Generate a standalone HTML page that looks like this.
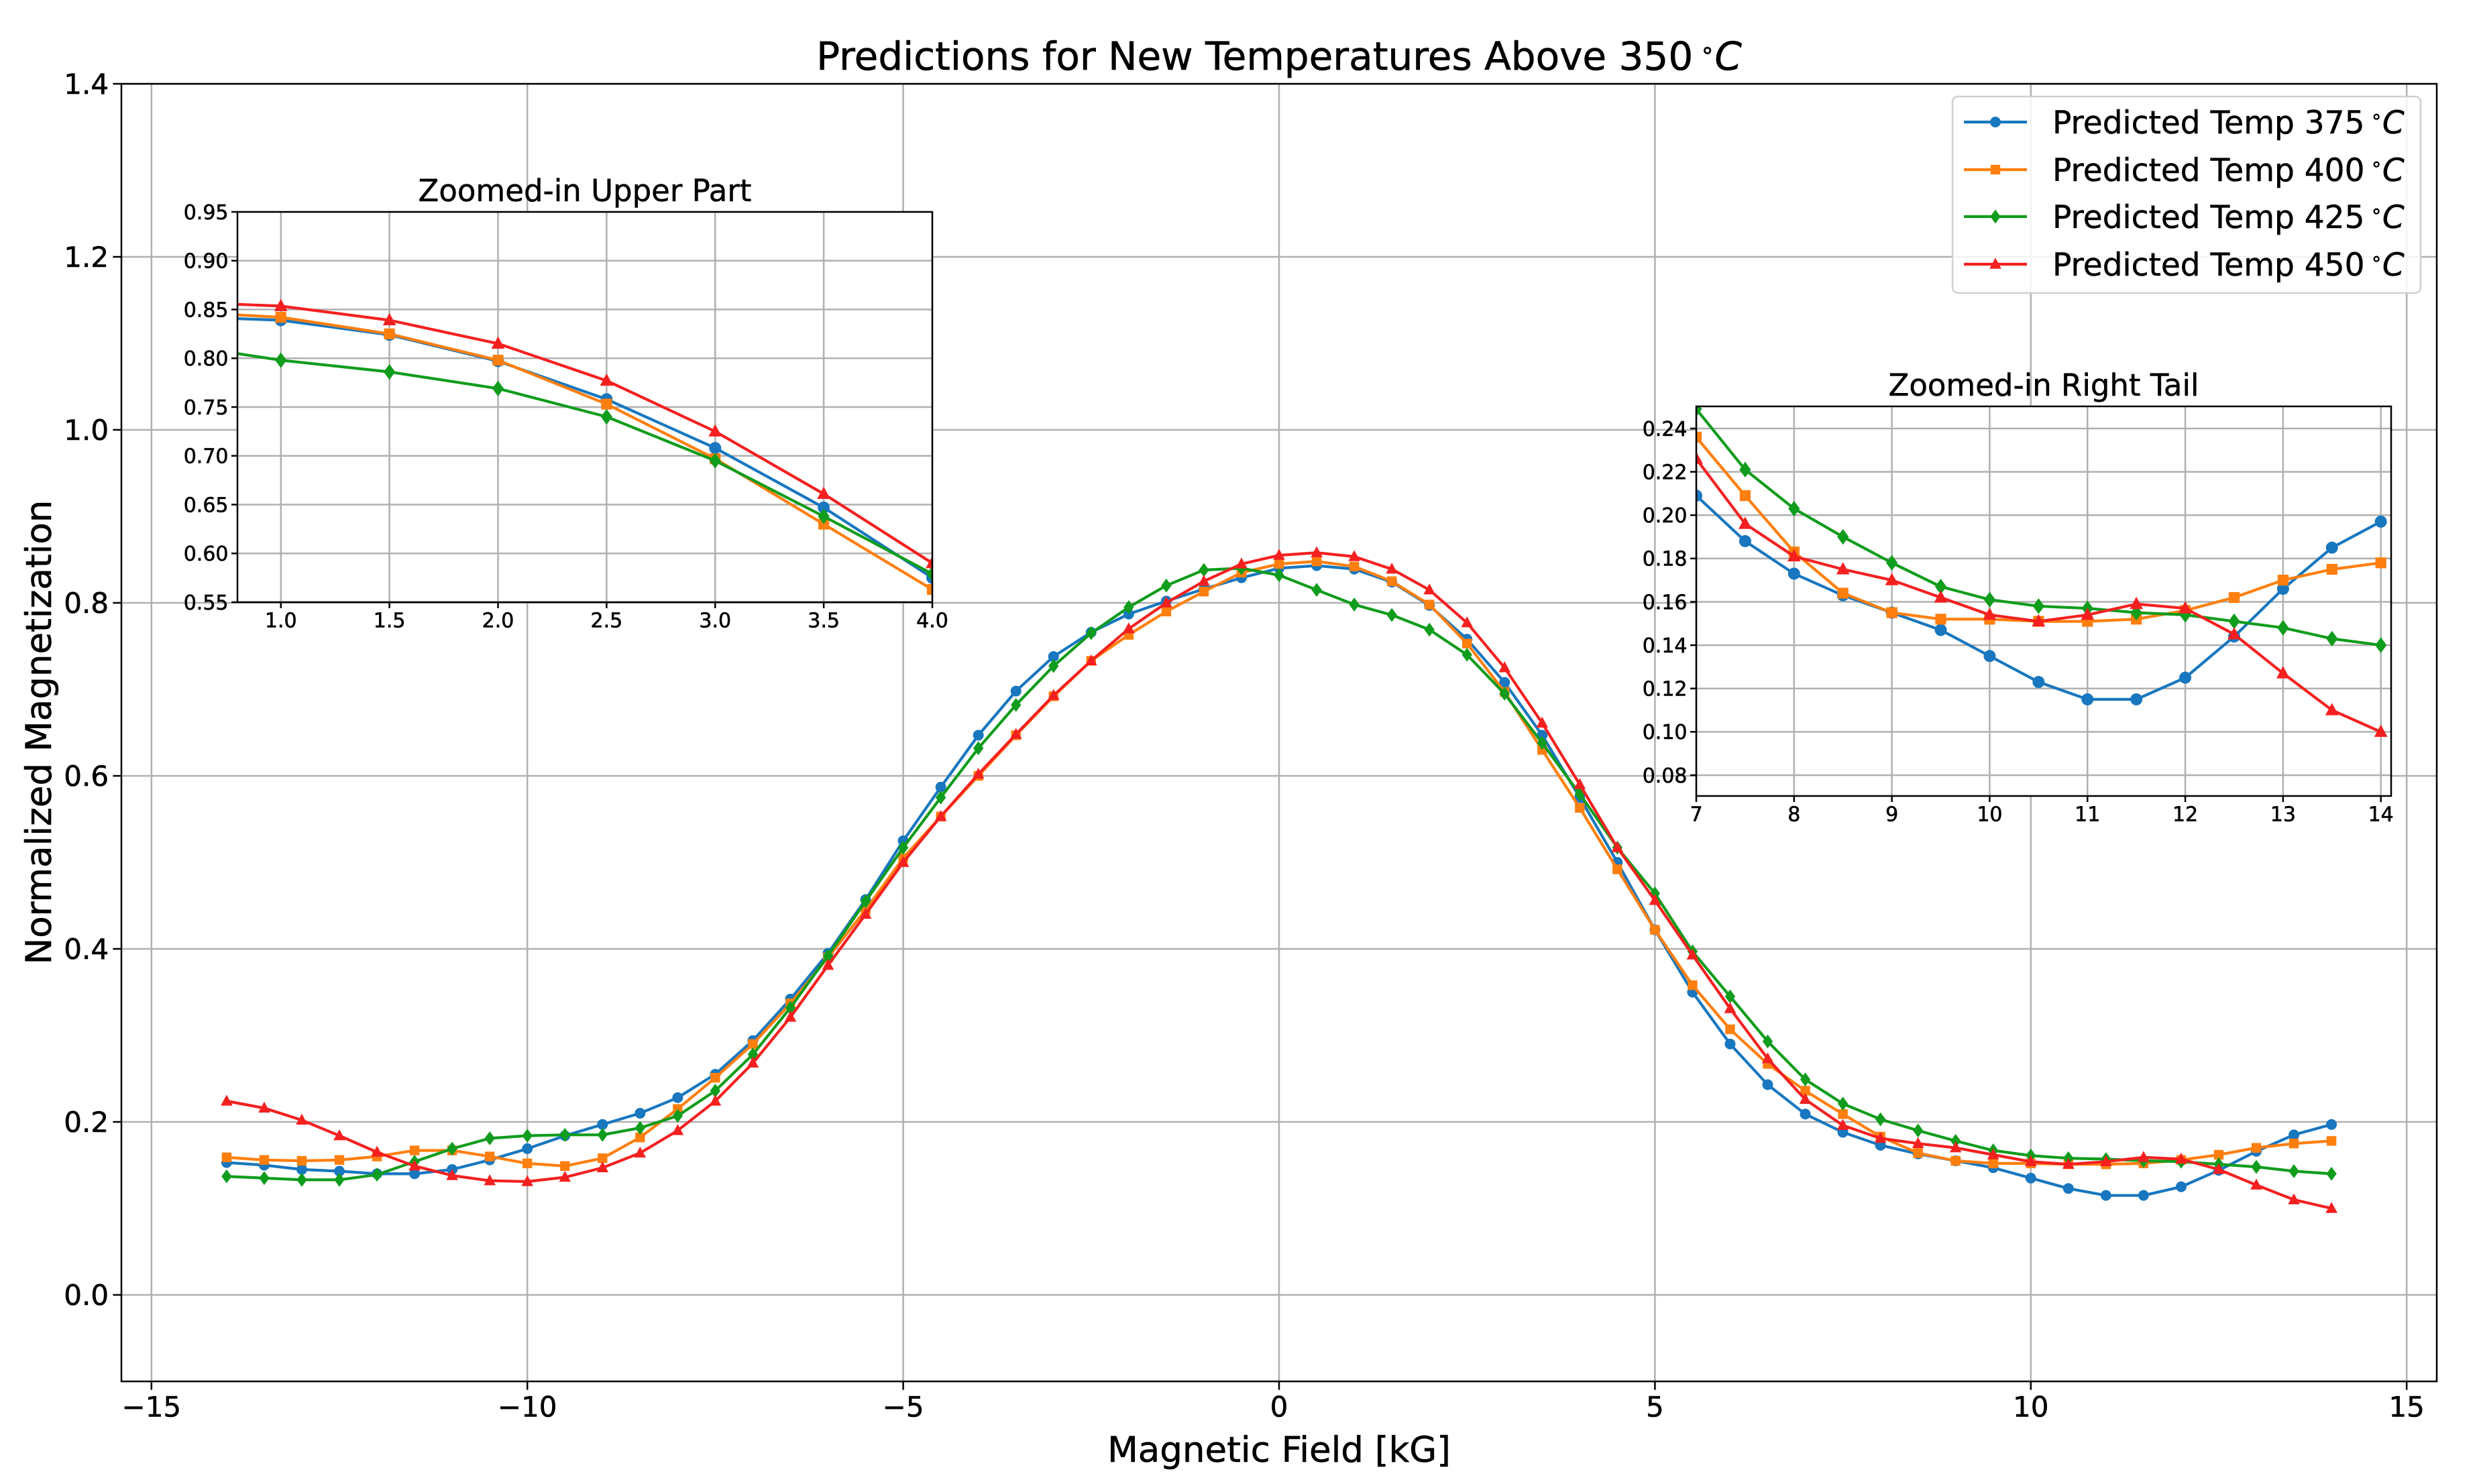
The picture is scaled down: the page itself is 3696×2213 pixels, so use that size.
<!DOCTYPE html>
<html><head><meta charset="utf-8"><style>
html,body{margin:0;padding:0;background:#fff;}
svg{display:block;font-family:"DejaVu Sans","Liberation Sans",sans-serif;}
</style></head><body>
<svg id="chart" width="3696" height="2213" viewBox="0 0 3696 2213" xmlns="http://www.w3.org/2000/svg"></svg>
<script>
const xValues = [];
for (let i = 0; i <= 56; i++) xValues.push(-14 + i * 0.5);
const seriesNames = ["Predicted Temp 375", "Predicted Temp 400", "Predicted Temp 425", "Predicted Temp 450"];
const blueValues = [0.153,0.150,0.145,0.143,0.140,0.140,0.145,0.156,0.169,0.184,0.197,0.210,0.228,0.255,0.294,0.342,0.395,
 0.457,0.525,0.587,0.647,0.698,0.738,0.766,0.787,0.802,0.816,0.829,0.840,
 0.843,0.839,0.824,0.797,0.758,0.708,0.647,0.575,
 0.500,0.422,0.350,0.290,0.243,
 0.209,0.188,0.173,0.163,0.155,0.147,0.135,0.123,0.115,0.115,0.125,0.144,0.166,0.185,0.197];
const orangeValues = [0.159,0.156,0.155,0.156,0.160,0.167,0.167,0.160,0.152,0.149,0.158,0.182,0.215,0.251,0.290,0.337,0.390,
 0.445,0.505,0.553,0.600,0.647,0.692,0.733,0.763,0.790,0.813,0.835,0.845,
 0.848,0.842,0.825,0.798,0.753,0.697,0.630,0.563,
 0.492,0.422,0.358,0.307,0.267,
 0.236,0.209,0.183,0.164,0.155,0.152,0.152,0.151,0.151,0.152,0.156,0.162,0.170,0.175,0.178];
const greenValues = [0.137,0.135,0.133,0.133,0.139,0.154,0.169,0.181,0.184,0.185,0.185,0.193,0.207,0.236,0.278,0.332,0.392,
 0.455,0.517,0.575,0.632,0.682,0.727,0.765,0.795,0.820,0.838,0.840,0.832,
 0.815,0.798,0.786,0.769,0.740,0.695,0.638,0.579,
 0.517,0.464,0.397,0.345,0.293,
 0.249,0.221,0.203,0.190,0.178,0.167,0.161,0.158,0.157,0.155,0.154,0.151,0.148,0.143,0.140];
const redValues = [0.224,0.216,0.202,0.184,0.165,0.149,0.138,0.132,0.131,0.136,0.147,0.164,0.190,0.224,0.268,0.321,0.381,
 0.440,0.500,0.553,0.602,0.648,0.693,0.733,0.770,0.800,0.825,0.845,0.855,
 0.858,0.8535,0.839,0.815,0.777,0.725,0.661,0.590,
 0.517,0.456,0.393,0.331,0.273,
 0.226,0.196,0.181,0.175,0.170,0.162,0.154,0.151,0.154,0.159,0.157,0.145,0.127,0.110,0.100];
const mainXTicks = [-15,-10,-5,0,5,10,15];
const mainYTicks = [0.0,0.2,0.4,0.6,0.8,1.0,1.2,1.4];
const inset1XTicks = [1.0,1.5,2.0,2.5,3.0,3.5,4.0];
const inset1YTicks = [0.55,0.60,0.65,0.70,0.75,0.80,0.85,0.90,0.95];
const inset2XTicks = [7,8,9,10,11,12,13,14];
const inset2YTicks = [0.08,0.10,0.12,0.14,0.16,0.18,0.20,0.22,0.24];

const NS = "http://www.w3.org/2000/svg";
const svg = document.getElementById("chart");
const colors = ["#1877bf","#ff7f0e","#109c1c","#f42020"];
const markers = ["circle","square","diamond","triangle"];
const allSeries = [blueValues, orangeValues, greenValues, redValues];
const keys = ["375","400","425","450"];

function el(tag, attrs, parent) {
  const e = document.createElementNS(NS, tag);
  for (const k in attrs) e.setAttribute(k, attrs[k]);
  (parent || svg).appendChild(e);
  return e;
}
function markerShape(type, x, y, s, color, parent) {
  let e;
  if (type === "circle") e = el("circle", {cx:x, cy:y, r:s*0.5, fill:color}, parent);
  else if (type === "square") e = el("rect", {x:x-s*0.45, y:y-s*0.45, width:s*0.9, height:s*0.9, fill:color}, parent);
  else if (type === "diamond") e = el("polygon", {points:`${x},${y-s*0.65} ${x+s*0.48},${y} ${x},${y+s*0.65} ${x-s*0.48},${y}`, fill:color}, parent);
  else e = el("polygon", {points:`${x},${y-s*0.6} ${x+s*0.55},${y+s*0.42} ${x-s*0.55},${y+s*0.42}`, fill:color}, parent);
  return e;
}

function drawAxes(cfg) {
  const {id, L, R, T, B, xmin, xmax, ymin, ymax, xticks, yticks, fmtX, fmtY, fs, lw, ms, grid} = cfg;
  const sx = v => L + (v - xmin) / (xmax - xmin) * (R - L);
  const sy = v => B - (v - ymin) / (ymax - ymin) * (B - T);
  const g = el("g", {});
  
  
  el("rect", {x:L, y:T, width:R-L, height:B-T, fill:"#fff"}, g);
  const gg = el("g", {stroke:"#b0b0b0", "stroke-width":grid}, g);
  
  
  xticks.forEach(t => { const x = sx(t); el("line", {x1:x, x2:x, y1:T, y2:B}, gg); });
  yticks.forEach(t => { const y = sy(t); el("line", {x1:L, x2:R, y1:y, y2:y}, gg); });
  xticks.forEach(t => {
    const x = sx(t);
    el("line", {x1:x, x2:x, y1:B, y2:B+fs*0.3, stroke:"#000", "stroke-width":grid}, g);
    const tx = el("text", {x:x, y:B+fs*0.45+fs*0.8, "font-size":fs, "text-anchor":"middle", fill:"#000", stroke:"#000", "stroke-width":0.6}, g);
    tx.textContent = fmtX(t);
    
    
  });
  yticks.forEach(t => {
    const y = sy(t);
    el("line", {x1:L-fs*0.3, x2:L, y1:y, y2:y, stroke:"#000", "stroke-width":grid}, g);
    const tx = el("text", {x:L-fs*0.45, y:y+fs*0.36, "font-size":fs, "text-anchor":"end", fill:"#000", stroke:"#000", "stroke-width":0.6}, g);
    tx.textContent = fmtY(t);
    
    
  });
  const cp = el("clipPath", {id:id+"-clip"}, g);
  el("rect", {x:L, y:T, width:R-L, height:B-T}, cp);
  const dg = el("g", {"clip-path":`url(#${id}-clip)`}, g);
  allSeries.forEach((vals, si) => {
    const s = el("g", {}, dg);
    
    
    const pts = vals.map((v,i) => `${sx(xValues[i]).toFixed(1)},${sy(v).toFixed(1)}`).join(" ");
    el("polyline", {points:pts, fill:"none", stroke:colors[si], "stroke-width":lw, "stroke-linejoin":"round"}, s);
    vals.forEach((v,i) => {
      const m = markerShape(markers[si], sx(xValues[i]), sy(v), ms, colors[si], s);
      
      
    });
  });
  el("rect", {x:L, y:T, width:R-L, height:B-T, fill:"none", stroke:"#000", "stroke-width":grid}, g);
  return g;
}

const f1 = v => v.toFixed(1), f2 = v => v.toFixed(2), f0 = v => String(v);
drawAxes({id:"main", L:181, R:3633, T:125, B:2060, xmin:-15.4, xmax:15.4, ymin:-0.1, ymax:1.4,
  xticks:mainXTicks, yticks:mainYTicks, fmtX:v => (v<0?"\u2212":"")+Math.abs(v), fmtY:f1, fs:42, lw:4.2, ms:16, grid:2.5});
drawAxes({id:"inset-upper", L:354, R:1390, T:316, B:898, xmin:0.8, xmax:4.0, ymin:0.55, ymax:0.95,
  xticks:inset1XTicks, yticks:inset1YTicks, fmtX:f1, fmtY:f2, fs:30, lw:4.2, ms:18, grid:2.5});
drawAxes({id:"inset-tail", L:2529, R:3565, T:606, B:1187, xmin:7, xmax:14.105, ymin:0.0704, ymax:0.2502,
  xticks:inset2XTicks, yticks:inset2YTicks, fmtX:f0, fmtY:f2, fs:30, lw:4.2, ms:18, grid:2.5});

function text(str, attrs, name) {
  const t = el("text", attrs);
  t.textContent = str;
  
  
  return t;
}
const title = text("", {x:1907, y:104, "font-size":58, "text-anchor":"middle", fill:"#000", stroke:"#000", "stroke-width":0.6}, "chart-title");
title.innerHTML = 'Predictions for New Temperatures Above 350<tspan dy="-18" font-size="34"> ∘</tspan><tspan dy="18" font-style="italic">C</tspan>';
text("Magnetic Field [kG]", {x:1907, y:2180, "font-size":53, "text-anchor":"middle", stroke:"#000", "stroke-width":0.6}, "x-axis-title");
text("Normalized Magnetization", {x:0, y:0, "font-size":53, "text-anchor":"middle", stroke:"#000", "stroke-width":0.6, transform:"translate(76,1092) rotate(-90)"}, "y-axis-title");
text("Zoomed-in Upper Part", {x:872, y:300, "font-size":45, "text-anchor":"middle", stroke:"#000", "stroke-width":0.5}, "inset-upper-title");
text("Zoomed-in Right Tail", {x:3047, y:590, "font-size":45, "text-anchor":"middle", stroke:"#000", "stroke-width":0.5}, "inset-tail-title");

const lg = el("g", {});


el("rect", {x:2911, y:144, width:698, height:293, rx:8, fill:"#fff", "fill-opacity":0.85, stroke:"#d0d0d0", "stroke-width":2.5}, lg);
const legendYs = [182, 253, 323, 394];
seriesNames.forEach((n, i) => {
  const e = el("g", {}, lg);
  
  
  const y = legendYs[i];
  el("line", {x1:2928, x2:3022, y1:y, y2:y, stroke:colors[i], "stroke-width":4.2}, e);
  markerShape(markers[i], 2975, y, 16, colors[i], e);
  const t = el("text", {x:3060, y:y+17, "font-size":47, fill:"#000", stroke:"#000", "stroke-width":0.5}, e);
  t.innerHTML = n + '<tspan dy="-16" font-size="28"> ∘</tspan><tspan dy="16" font-style="italic">C</tspan>';
});
</script>
</body></html>
